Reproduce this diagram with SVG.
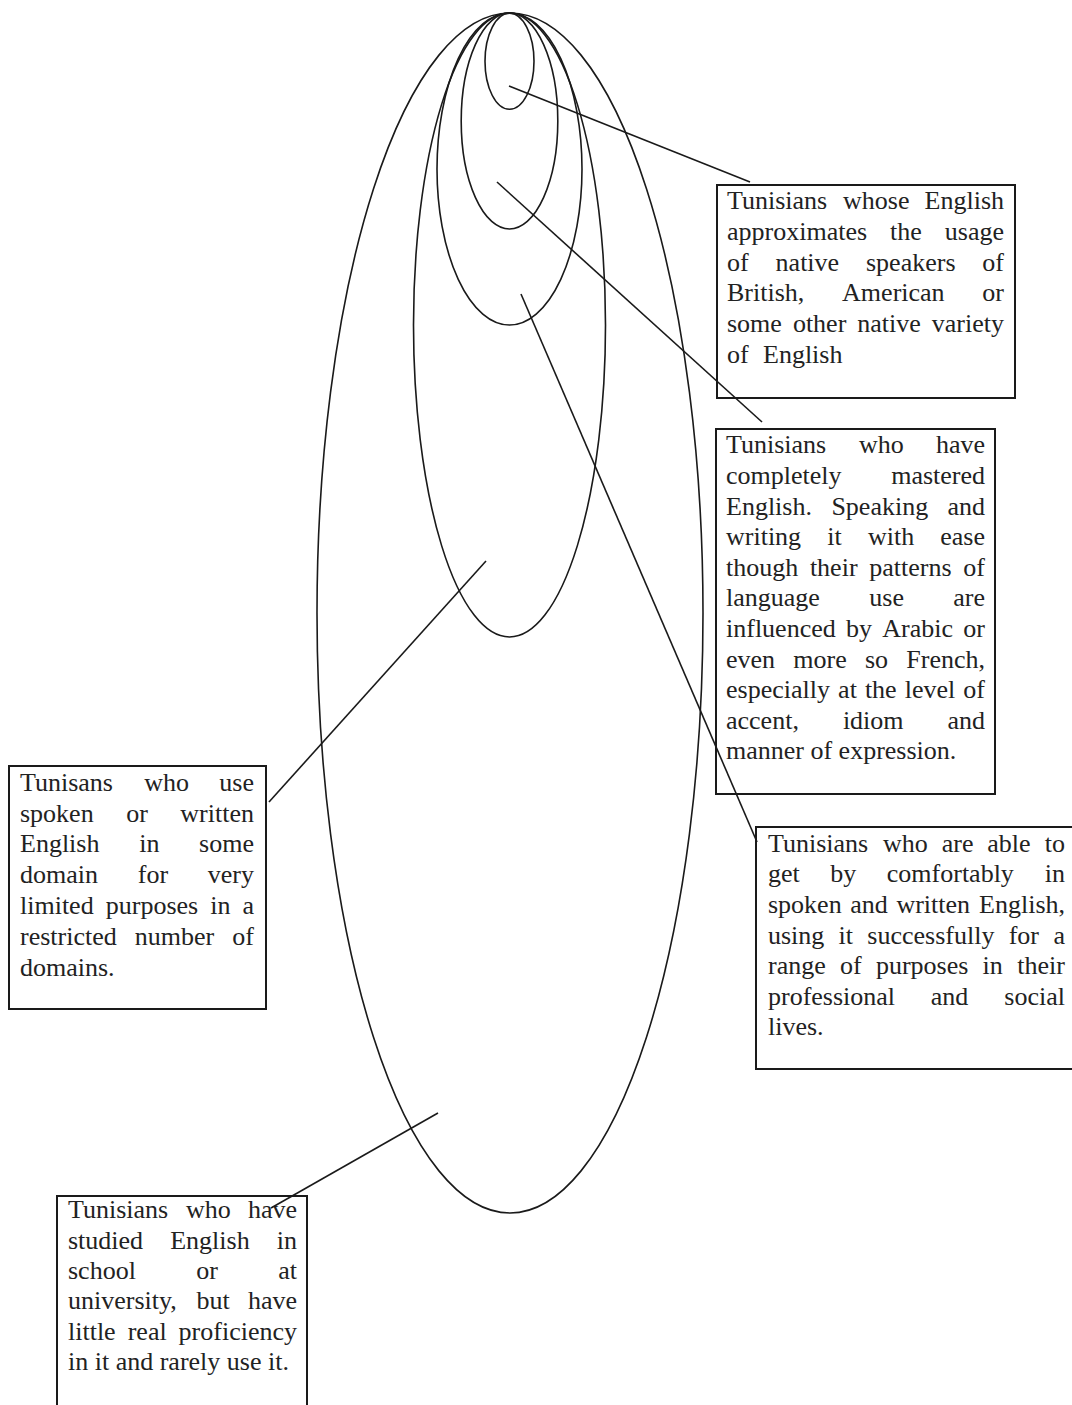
<svg xmlns="http://www.w3.org/2000/svg" width="1072" height="1405" viewBox="0 0 1072 1405">
<style>
.ell{fill:none;stroke:#1a1a1a;stroke-width:1.6}
.box{fill:#fff;stroke:#1a1a1a;stroke-width:2}
.con{stroke:#1a1a1a;stroke-width:1.6;fill:none}
text{font-family:"Liberation Serif","Times New Roman",serif;font-size:26px;fill:#222}
.e{text-anchor:end}
</style>
<rect width="1072" height="1405" fill="#fff"/>
<g id="ellipses">
<ellipse id="e5" class="ell" cx="510" cy="613" rx="193" ry="600"/>
<ellipse id="e4" class="ell" cx="509.5" cy="325" rx="96" ry="312"/>
<ellipse id="e3" class="ell" cx="509.5" cy="169" rx="72.5" ry="156"/>
<ellipse id="e2" class="ell" cx="509.5" cy="121" rx="48.3" ry="108"/>
<ellipse id="e1" class="ell" cx="509.5" cy="61.3" rx="24.5" ry="48"/>
</g>
<g id="box-native">
<rect class="box" x="717" y="185" width="298" height="213"/>
<text y="209"><tspan x="727">Tunisians</tspan><tspan x="843.1">whose</tspan></text><text class="e" x="1004" y="209">English</text>
<text y="240"><tspan x="727">approximates</tspan><tspan x="890">the</tspan></text><text class="e" x="1004" y="240">usage</text>
<text y="271"><tspan x="727">of</tspan><tspan x="775.6">native</tspan><tspan x="866">speakers</tspan></text><text class="e" x="1004" y="271">of</text>
<text y="301"><tspan x="727">British,</tspan><tspan x="842.1">American</tspan></text><text class="e" x="1004" y="301">or</text>
<text y="332"><tspan x="727">some</tspan><tspan x="792.9">other</tspan><tspan x="857.3">native</tspan></text><text class="e" x="1004" y="332">variety</text>
<text y="363"><tspan x="727">of</tspan><tspan x="763">English</tspan></text>
</g>
<g id="box-mastered">
<rect class="box" x="716" y="429" width="279" height="365"/>
<text y="453"><tspan x="726">Tunisians</tspan><tspan x="859.1">who</tspan></text><text class="e" x="985" y="453">have</text>
<text y="484"><tspan x="726">completely</tspan></text><text class="e" x="985" y="484">mastered</text>
<text y="515"><tspan x="726">English.</tspan><tspan x="831.4">Speaking</tspan></text><text class="e" x="985" y="515">and</text>
<text y="545"><tspan x="726">writing</tspan><tspan x="827.3">it</tspan><tspan x="868">with</tspan></text><text class="e" x="985" y="545">ease</text>
<text y="576"><tspan x="726">though</tspan><tspan x="809.9">their</tspan><tspan x="869.3">patterns</tspan></text><text class="e" x="985" y="576">of</text>
<text y="606"><tspan x="726">language</tspan><tspan x="869.3">use</tspan></text><text class="e" x="985" y="606">are</text>
<text y="637"><tspan x="726">influenced</tspan><tspan x="846">by</tspan><tspan x="882.3">Arabic</tspan></text><text class="e" x="985" y="637">or</text>
<text y="668"><tspan x="726">even</tspan><tspan x="793.3">more</tspan><tspan x="864.9">so</tspan></text><text class="e" x="985" y="668">French,</text>
<text y="698"><tspan x="726">especially</tspan><tspan x="838.1">at</tspan><tspan x="864.9">the</tspan><tspan x="904.8">level</tspan></text><text class="e" x="985" y="698">of</text>
<text y="729"><tspan x="726">accent,</tspan><tspan x="842.9">idiom</tspan></text><text class="e" x="985" y="729">and</text>
<text x="726" y="759">manner of expression.</text>
</g>
<g id="box-comfortable">
<rect class="box" x="756" y="827" width="320" height="242"/>
<text y="852"><tspan x="768">Tunisians</tspan><tspan x="883">who</tspan><tspan x="941.7">are</tspan><tspan x="987.3">able</tspan></text><text class="e" x="1065" y="852">to</text>
<text y="882"><tspan x="768">get</tspan><tspan x="830.3">by</tspan><tspan x="886.8">comfortably</tspan></text><text class="e" x="1065" y="882">in</text>
<text y="913"><tspan x="768">spoken</tspan><tspan x="850.3">and</tspan><tspan x="896.4">written</tspan></text><text class="e" x="1065" y="913">English,</text>
<text y="944"><tspan x="768">using</tspan><tspan x="838.6">it</tspan><tspan x="867.3">successfully</tspan><tspan x="1008.7">for</tspan></text><text class="e" x="1065" y="944">a</text>
<text y="974"><tspan x="768">range</tspan><tspan x="840">of</tspan><tspan x="875.9">purposes</tspan><tspan x="982.6">in</tspan></text><text class="e" x="1065" y="974">their</text>
<text y="1005"><tspan x="768">professional</tspan><tspan x="930.8">and</tspan></text><text class="e" x="1065" y="1005">social</text>
<text x="768" y="1035">lives.</text>
</g>
<g id="box-limited">
<rect class="box" x="9" y="766" width="257" height="243"/>
<text y="791"><tspan x="20">Tunisans</tspan><tspan x="144.2">who</tspan></text><text class="e" x="254" y="791">use</text>
<text y="822"><tspan x="20">spoken</tspan><tspan x="126.2">or</tspan></text><text class="e" x="254" y="822">written</text>
<text y="852"><tspan x="20">English</tspan><tspan x="139.2">in</tspan></text><text class="e" x="254" y="852">some</text>
<text y="883"><tspan x="20">domain</tspan><tspan x="137.8">for</tspan></text><text class="e" x="254" y="883">very</text>
<text y="914"><tspan x="20">limited</tspan><tspan x="105.8">purposes</tspan><tspan x="210.3">in</tspan></text><text class="e" x="254" y="914">a</text>
<text y="945"><tspan x="20">restricted</tspan><tspan x="134.8">number</tspan></text><text class="e" x="254" y="945">of</text>
<text x="20" y="976">domains.</text>
</g>
<g id="box-studied">
<rect class="box" x="57" y="1196" width="250" height="215"/>
<text y="1218"><tspan x="68">Tunisians</tspan><tspan x="186.1">who</tspan></text><text class="e" x="297" y="1218">have</text>
<text y="1249"><tspan x="68">studied</tspan><tspan x="170.2">English</tspan></text><text class="e" x="297" y="1249">in</text>
<text y="1279"><tspan x="68">school</tspan><tspan x="196.2">or</tspan></text><text class="e" x="297" y="1279">at</text>
<text y="1309"><tspan x="68">university,</tspan><tspan x="196.6">but</tspan></text><text class="e" x="297" y="1309">have</text>
<text y="1340"><tspan x="68">little</tspan><tspan x="127.7">real</tspan></text><text class="e" x="297" y="1340">proficiency</text>
<text x="68" y="1370">in it and rarely use it.</text>
</g>
<g id="connectors">
<line class="con" x1="509" y1="86" x2="750" y2="182"/>
<line class="con" x1="497" y1="182" x2="762" y2="422"/>
<line class="con" x1="521" y1="294" x2="757" y2="842"/>
<line class="con" x1="486" y1="561" x2="269" y2="802"/>
<line class="con" x1="438" y1="1113" x2="271" y2="1208"/>
</g>
</svg>
